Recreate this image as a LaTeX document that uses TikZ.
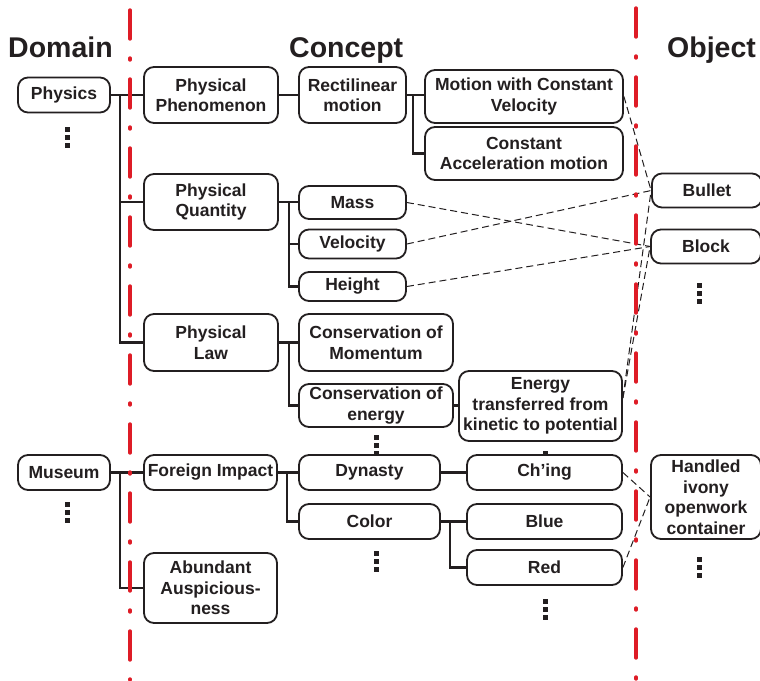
\documentclass[tikz,border=0pt]{standalone}
\usepackage{fontspec}
\setmainfont{Liberation Sans}
\newcommand{\nodetextfont}{\bfseries\fontsize{17.5}{20.5}\selectfont}
\newcommand{\columnheadfont}{\bfseries\fontsize{28.5}{32}\selectfont}
\definecolor{divred}{RGB}{222,28,38}
\definecolor{inkblack}{RGB}{35,31,32}
\tikzset{
  box/.style={draw=inkblack, line width=1.8pt, rounded corners=10pt, fill=white,
    align=center, inner sep=0pt, text=inkblack, font=\nodetextfont},
  link/.style={draw=inkblack, line width=2.6pt},
  rel/.style={draw=inkblack, line width=1pt, dash pattern=on 7pt off 4pt},
  divider/.style={draw=divred, line width=3.4pt, line cap=round,
    dash pattern=on 29pt off 19pt on 2pt off 19pt},
  colhead/.style={font=\columnheadfont, anchor=base west, inner sep=0pt, text=inkblack},
  vdots/.pic={
    \fill[inkblack] (-2.5,-10.5) rectangle (2.5,-5.5);
    \fill[inkblack] (-2.5,-2.5) rectangle (2.5,2.5);
    \fill[inkblack] (-2.5,5.5) rectangle (2.5,10.5);
  },
}
\begin{document}
\begin{tikzpicture}[x=1pt, y=-1pt]
\clip (0,0) rectangle (760,680);
\fill[white] (0,0) rectangle (760,680);

% column headings
\node[colhead] (hdomain) at (8,57) {Domain};
\node[colhead] (hconcept) at (289,57) {Concept};
\node[colhead] (hobject) at (667,57) {Object};

% vertical ellipses (drawn first so boxes may cover them)
\pic at (67,137) {vdots};
\pic at (67,512) {vdots};
\pic at (376,445) {vdots};
\pic at (545,461) {vdots};
\pic at (376,561) {vdots};
\pic at (545,609) {vdots};
\pic at (699,293) {vdots};
\pic at (699,567) {vdots};

% physics branch
\node[box, minimum width=92pt, minimum height=35pt] (physics) at (64,95) {Physics};
\node[box, minimum width=134pt, minimum height=56pt] (phen) at (211,95) {Physical\\Phenomenon};
\node[box, minimum width=107pt, minimum height=56pt] (recti) at (352.5,95) {Rectilinear\\motion};
\node[box, minimum width=198pt, minimum height=53pt] (mcv) at (524,96.5) {Motion with Constant\\Velocity};
\node[box, minimum width=198pt, minimum height=53pt] (cam) at (524,153.5) {Constant\\Acceleration motion};
\node[box, minimum width=134pt, minimum height=56pt] (quant) at (211,202) {Physical\\Quantity};
\node[box, minimum width=107pt, minimum height=33pt] (mass) at (352.5,202.5) {Mass};
\node[box, minimum width=107pt, minimum height=29pt] (velo) at (352.5,244) {Velocity};
\node[box, minimum width=107pt, minimum height=29pt] (height) at (352.5,286.5) {Height};
\node[box, minimum width=134pt, minimum height=57pt] (law) at (211,342.5) {Physical\\Law};
\node[box, minimum width=154pt, minimum height=57pt] (consmom) at (376,342.5) {Conservation of\\Momentum};
\node[box, minimum width=154pt, minimum height=43pt] (consen) at (376,405.5) {Conservation of\\energy};
\node[box, minimum width=163pt, minimum height=70pt] (energy) at (540.5,406) {Energy\\transferred from\\kinetic to potential};

% museum branch
\node[box, minimum width=92pt, minimum height=35pt] (museum) at (64,472.5) {Museum};
\node[box, minimum width=133pt, minimum height=35pt] (foreign) at (210.5,472.5) {Foreign Impact};
\node[box, minimum width=133pt, minimum height=70pt] (abund) at (210.5,588) {Abundant\\Auspicious-\\ness};
\node[box, minimum width=141pt, minimum height=35pt] (dynasty) at (369.5,472.5) {Dynasty};
\node[box, minimum width=141pt, minimum height=35pt] (color) at (369.5,521.5) {Color};
\node[box, minimum width=155pt, minimum height=35pt] (ching) at (544.5,472.5) {Ch’ing};
\node[box, minimum width=155pt, minimum height=35pt] (blue) at (544.5,521.5) {Blue};
\node[box, minimum width=155pt, minimum height=35pt] (red) at (544.5,567.5) {Red};

% objects
\node[box, minimum width=110pt, minimum height=34pt] (bullet) at (707,190.5) {Bullet};
\node[box, minimum width=110pt, minimum height=34pt] (block) at (706,246.5) {Block};
\node[box, minimum width=110pt, minimum height=84pt] (handled) at (706,497) {Handled\\ivony\\openwork\\container};

% tree connectors
\coordinate (spphys) at (120,95);
\coordinate (sprecti) at (413,95);
\coordinate (spquant) at (289,202);
\coordinate (splaw) at (289,342.5);
\coordinate (spmus) at (120,472.5);
\coordinate (spfor) at (287,472.5);
\coordinate (spcol) at (450,521.5);

\draw[link] (physics.east) -- (phen.west);
\draw[link] (spphys) |- (quant.west);
\draw[link] (spphys) |- (law.west);
\draw[link] (phen.east) -- (recti.west);
\draw[link] (recti.east) -- (mcv.west |- recti.east);
\draw[link] (sprecti) |- (cam.west);
\draw[link] (quant.east) -- (mass.west |- quant.east);
\draw[link] (spquant) |- (velo.west);
\draw[link] (spquant) |- (height.west);
\draw[link] (law.east) -- (consmom.west);
\draw[link] (splaw) |- (consen.west);
\draw[link] (consen.east) -- (energy.west |- consen.east);

\draw[link] (museum.east) -- (foreign.west);
\draw[link] (spmus) |- (abund.west);
\draw[link] (foreign.east) -- (dynasty.west);
\draw[link] (spfor) |- (color.west);
\draw[link] (dynasty.east) -- (ching.west);
\draw[link] (color.east) -- (blue.west);
\draw[link] (spcol) |- (red.west);

% concept-object relations
\draw[rel] (mcv.east) -- (bullet.west);
\draw[rel] (mass.east) -- (block.west);
\draw[rel] (velo.east) -- (bullet.west);
\draw[rel] (height.east) -- (block.west);
\draw[rel] ([yshift=8pt]energy.east) -- (bullet.west);
\draw[rel] ([yshift=8pt]energy.east) -- (block.west);
\draw[rel] (ching.east) -- (handled.west);
\draw[rel] (red.east) -- (handled.west);

% column dividers
\coordinate (divatop) at (130,10);
\coordinate (divabot) at (130,680);
\coordinate (divbtop) at (636,8);
\coordinate (divbbot) at (636,680);
\draw[divider] (divatop) -- (divabot);
\draw[divider] (divbtop) -- (divbbot);
\end{tikzpicture}
\end{document}
